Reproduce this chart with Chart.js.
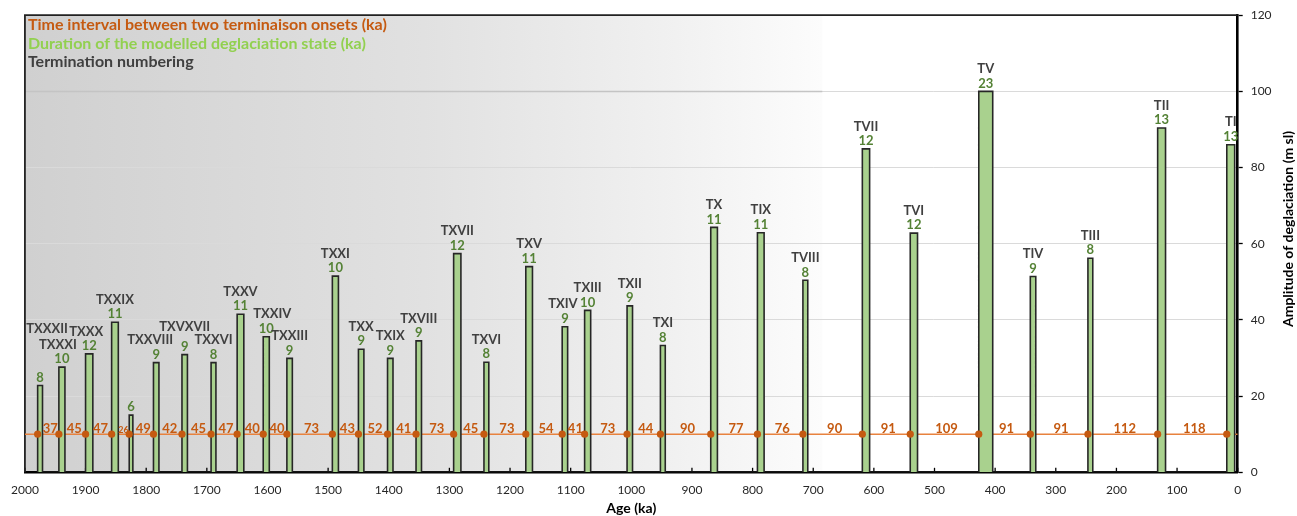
<!DOCTYPE html>
<html><head><meta charset="utf-8">
<script src="https://cdn.jsdelivr.net/npm/chart.js@4.4.1/dist/chart.umd.min.js"></script>
<style>html,body{margin:0;padding:0;background:#fff;}canvas{display:block;}</style>
</head><body>
<canvas id="c" width="1297" height="516"></canvas>
<script>
// ---------------- data ----------------
const terminations = ['TXXXII','TXXXI','TXXX','TXXIX','','TXXVIII','TXVXVII','TXXVI','TXXV','TXXIV','TXXIII','TXXI','TXX','TXIX','TXVIII','TXVII','TXVI','TXV','TXIV','TXIII','TXII','TXI','TX','TIX','TVIII','TVII','TVI','TV','TIV','TIII','TII','TI'];
const onsetAges = [1979,1944,1900,1857,1828,1788,1741,1693,1650,1607,1568,1493,1450,1402,1355,1293,1243,1174,1114,1077,1007,952,869,792,717,619,540,427,342,247,132,18];
const durations = [8,10,12,11,6,9,9,8,11,10,9,10,9,9,9,12,8,11,9,10,9,8,11,11,8,12,12,23,9,8,13,13];
const amplitudes = [22.8,27.6,31.1,39.4,15,28.8,30.9,28.8,41.5,35.6,29.9,51.5,32.3,29.9,34.5,57.4,28.9,54.0,38.2,42.5,43.7,33.3,64.3,62.9,50.4,84.9,62.8,100,51.4,56.2,90.4,86];
const intervals = [37,45,47,26,49,42,45,47,40,40,73,43,52,41,73,45,73,54,41,73,44,90,77,76,90,91,109,91,91,112,118];
const intervalLevel = 10;
const ageMin = 0, ageMax = 2000, ageStep = 100;
const ampMin = 0, ampMax = 120, ampStep = 20;
const legendLines = ['Time interval between two terminaison onsets (ka)','Duration of the modelled deglaciation state (ka)','Termination numbering'];
const xTitle = 'Age (ka)';
const yTitle = 'Amplitude of deglaciation (m sl)';

// ---------------- styling / layout ----------------
const FONT = 'Lato, "Open Sans", sans-serif';
const C_ORANGE = '#C55A11', C_LINE = '#E8823E', C_GREEN_TXT = '#548235', C_GREEN_LEG = '#92D050', C_GRAY = '#404040';
const SHADE_END_AGE = 685;
const nameShift = {TXXXII:[7,-34], TXXXI:[-4,0], TXXX:[-3,0], TXXVIII:[-6,0], TXVXVII:[0,-5], TXXIV:[6,0], TXIV:[-2,0]};

const barOutline = [];
onsetAges.forEach((a, i) => {
  const e = a - durations[i];
  barOutline.push({x:a, y:0}, {x:a, y:amplitudes[i]}, {x:e, y:amplitudes[i]}, {x:e, y:0});
});
const markers = onsetAges.map(a => ({x:a, y:intervalLevel}));
const fullLine = [{x:ageMax, y:intervalLevel}, {x:ageMin, y:intervalLevel}];

const deco = {
  id: 'deco',
  beforeDraw(chart) {
    const {ctx, chartArea:a, scales:{x}} = chart;
    ctx.save();
    ctx.fillStyle = '#fff'; ctx.fillRect(0, 0, chart.width, chart.height);
    const xe = x.getPixelForValue(SHADE_END_AGE);
    const g = ctx.createLinearGradient(a.left, 0, xe, 0);
    g.addColorStop(0, '#d0d0d0'); g.addColorStop(0.5, '#e1e1e1'); g.addColorStop(0.8, '#f0f0f0'); g.addColorStop(1, '#fcfcfc');
    ctx.fillStyle = g; ctx.fillRect(a.left, a.top, xe - a.left, a.bottom - a.top);
    ctx.restore();
  },
  beforeDatasetsDraw(chart) {
    const {ctx, chartArea:a, scales:{x, y}} = chart;
    ctx.save();
    const xe = x.getPixelForValue(SHADE_END_AGE);
    ctx.strokeStyle = '#c4c4c4'; ctx.lineWidth = 1.5;
    ctx.beginPath(); const yy = y.getPixelForValue(100); ctx.moveTo(a.left, yy); ctx.lineTo(xe, yy); ctx.stroke();
    ctx.strokeStyle = '#000'; ctx.lineWidth = 1.3;
    for (let v = ageMin; v <= ageMax; v += ageStep) {
      const px = x.getPixelForValue(v);
      ctx.beginPath(); ctx.moveTo(px, a.bottom); ctx.lineTo(px, a.bottom - 4.5); ctx.stroke();
    }
    ctx.strokeStyle = '#222'; ctx.lineWidth = 1.8;
    ctx.beginPath(); ctx.moveTo(a.left, a.bottom); ctx.lineTo(a.left, a.top); ctx.lineTo(a.right, a.top); ctx.stroke();
    ctx.restore();
  },
  afterDatasetsDraw(chart) {
    const {ctx, chartArea:a, scales:{x, y}} = chart;
    ctx.save();
    ctx.textAlign = 'center'; ctx.textBaseline = 'middle';
    terminations.forEach((nm, i) => {
      const cx = x.getPixelForValue(onsetAges[i] - durations[i] / 2);
      const top = y.getPixelForValue(amplitudes[i]);
      ctx.font = 'bold 13px ' + FONT;
      ctx.fillStyle = C_GREEN_TXT;
      ctx.fillText(String(durations[i]), cx, top - 8);
      if (nm) {
        const s = nameShift[nm] || [0, 0];
        ctx.fillStyle = C_GRAY;
        ctx.fillText(nm, cx + s[0], top - 22.5 + s[1]);
      }
    });
    const ly = y.getPixelForValue(intervalLevel);
    ctx.textBaseline = 'alphabetic';
    ctx.fillStyle = C_ORANGE;
    intervals.forEach((v, i) => {
      const p1 = x.getPixelForValue(onsetAges[i]), p2 = x.getPixelForValue(onsetAges[i + 1]);
      const small = (p2 - p1) < 19;
      ctx.font = 'bold ' + (small ? 9 : 13) + 'px ' + FONT;
      ctx.fillText(String(v), (p1 + p2) / 2 + (small ? 3 : 2), ly - 1.5);
    });
    ctx.textAlign = 'left'; ctx.textBaseline = 'middle';
    ctx.font = 'bold 16px ' + FONT;
    const cols = [C_ORANGE, C_GREEN_LEG, C_GRAY];
    const ys = [24.5, 43.5, 61.5];
    legendLines.forEach((t, i) => { ctx.fillStyle = cols[i]; ctx.fillText(t, a.left + 3, ys[i]); });
    ctx.fillStyle = '#000';
    ctx.font = 'bold 14px ' + FONT;
    ctx.textAlign = 'center';
    ctx.fillText(xTitle, (a.left + a.right) / 2, 508);
    ctx.translate(1288, 229); ctx.rotate(-Math.PI / 2);
    ctx.fillText(yTitle, 0, 0);
    ctx.restore();
  }
};

new Chart(document.getElementById('c'), {
  type: 'line',
  data: {
    datasets: [
      { label: 'onsets', data: markers, showLine: false, pointRadius: 3.6, pointBackgroundColor: C_ORANGE, pointBorderWidth: 0, borderColor: C_ORANGE },
      { label: 'bars', data: barOutline, fill: 'origin', backgroundColor: '#A9D18E', borderColor: '#262626', borderWidth: 1.6, pointRadius: 0, tension: 0 },
      { label: 'interval line', data: fullLine, borderColor: C_LINE, borderWidth: 1.6, pointRadius: 0, fill: false }
    ]
  },
  options: {
    responsive: false, animation: false, events: [],
    layout: { padding: { left: 23.5, top: 14.7, right: 0, bottom: 0 } },
    plugins: { legend: { display: false }, tooltip: { enabled: false } },
    scales: {
      x: {
        type: 'linear', reverse: true, min: ageMin, max: ageMax,
        grid: { display: false, drawTicks: false },
        border: { display: true, color: '#000', width: 2.6 },
        ticks: { stepSize: ageStep, padding: 11, color: '#262626', font: { family: FONT, size: 12 }, maxRotation: 0, autoSkip: false, callback: v => String(v) },
        afterFit: s => { s.height = 43.7; }
      },
      y: {
        position: 'right', min: ampMin, max: ampMax,
        grid: { color: '#dadada', lineWidth: 1, drawTicks: true, tickLength: 5, tickColor: '#000', tickWidth: 1.3 },
        border: { display: true, color: '#000', width: 2.6 },
        ticks: { stepSize: ampStep, padding: 8, color: '#262626', font: { family: FONT, size: 12 }, callback: v => String(v) },
        afterFit: s => { s.width = 59.3; }
      }
    }
  },
  plugins: [deco]
});
</script></body></html>
